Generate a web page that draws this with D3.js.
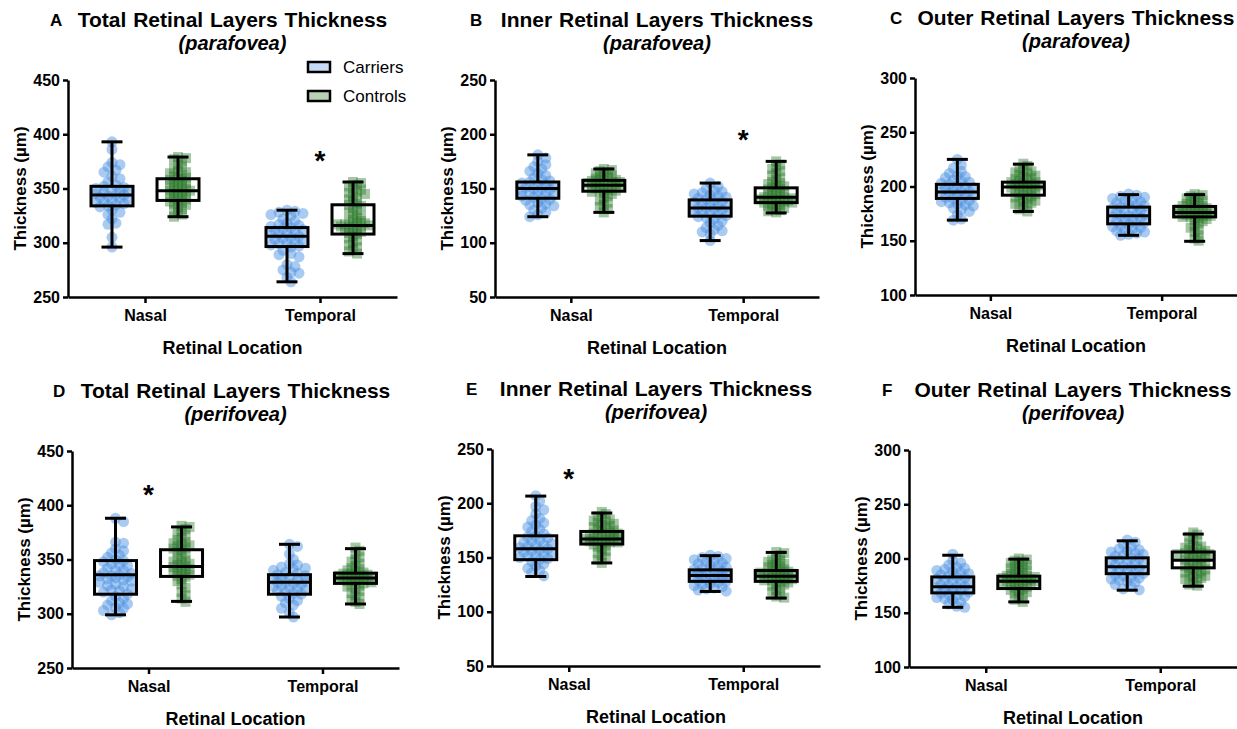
<!DOCTYPE html>
<html>
<head>
<meta charset="utf-8">
<script src="https://cdn.jsdelivr.net/npm/d3@7"></script>
<style>
  body { margin: 0; background: #fff; }
  text { font-family: "Liberation Sans", Arial, sans-serif; }
</style>
</head>
<body>
<svg id="chart" width="1237" height="729"></svg>
<script>
// categories / labels
var locations = ['Nasal', 'Temporal']
var groups = ['Carriers', 'Controls']
var panelLetters = ['A', 'B', 'C', 'D', 'E', 'F']
var panelTitles = [
  'Total Retinal Layers Thickness', 'Inner Retinal Layers Thickness', 'Outer Retinal Layers Thickness',
  'Total Retinal Layers Thickness', 'Inner Retinal Layers Thickness', 'Outer Retinal Layers Thickness'
]
var panelRegions = ['(parafovea)', '(parafovea)', '(parafovea)', '(perifovea)', '(perifovea)', '(perifovea)']
var yDomains = [[250, 450], [50, 250], [100, 300], [250, 450], [50, 250], [100, 300]]
var yTicks = [
  [250, 300, 350, 400, 450], [50, 100, 150, 200, 250], [100, 150, 200, 250, 300],
  [250, 300, 350, 400, 450], [50, 100, 150, 200, 250], [100, 150, 200, 250, 300]
]

// box stats [min, q1, median, q3, max], order: carriers nasal, controls nasal, carriers temporal, controls temporal
var boxA = [[296, 334, 344, 352, 393], [324, 339, 348, 359, 379], [264, 296.5, 306, 314, 330], [290, 308, 316, 335, 356]]
var boxB = [[124, 141, 150, 156, 181], [128, 147.5, 153, 157.5, 168], [102, 124.5, 132, 139.5, 155], [127.5, 137, 142, 150.6, 175]]
var boxC = [[169, 189, 195, 202, 225], [177, 192, 199.5, 204, 220.6], [155, 165.6, 173, 181, 192.5], [149.5, 172, 176, 181.6, 192.5]]
var boxD = [[299, 318, 336, 349, 388], [311.4, 334.4, 343.6, 359, 380], [297, 318, 329, 336, 364], [309, 328, 333, 337.4, 360]]
var boxE = [[132.5, 148, 158, 170, 206.6], [145, 162.4, 167, 174, 191], [118.7, 128, 133.4, 138.6, 151.7], [112.6, 128, 132.8, 138, 154.7]]
var boxF = [[155, 168.3, 174, 183, 203], [160, 172.3, 179, 183.7, 199.4], [170.8, 186, 192.3, 200.6, 216.3], [174.5, 191.4, 198.5, 206, 222.5]]

// individual subjects
var pointsA = [
  [393,386,374,372,370,367,365,361,359,356,353,352,351,350,349,348,347,346,345,344,344,343,342,341,340,339,338,337,336,335,334,333,330,328,326,322,318,317,305,296],
  [379,378,377,375,372,370,368,366,365,364,362,361,360,359,358,357,356,355,354,353,352,351,350,349,348,348,347,346,345,344,343,342,341,340,339,338,337,336,335,333,331,330,328,326,324],
  [330,329,328,327,326,325,322,320,318,317,316,315,314,313,312,311,310,309,308,307,306,305,304,303,302,301,300,299,298,297,296,293,290,289,287,280,278,275,273,272,268,264],
  [356,355,353,352,350,349,347,346,345,343,341,340,338,336,335,334,332,330,328,326,325,323,321,320,319,318,318,317,317,316,316,315,315,314,313,312,311,310,309,308,306,304,302,300,298,296,294,292,290]
]
var pointsB = [
  [181,178,175,172,170,168,166,164,162,160,158,157,156,155,154,153,152,151,150,150,149,148,147,146,145,144,143,142,141,140,139,137,136,135,134,132,130,128,126,124],
  [168,167,166,165,164,163,162,161,160,159,158,158,157,157,156,156,155,155,154,154,153,153,152,152,151,150,149,148,148,147,146,145,143,141,139,137,135,133,131,128],
  [155,152,150,148,147,146,145,144,143,142,141,140,139,138,137,136,135,134,133,132,132,131,130,129,128,127,126,125,124,123,122,120,118,116,114,112,111,110,108,102],
  [175,172,170,168,166,164,162,160,158,156,155,154,153,152,151,150,149,148,147,146,145,144,143,142,142,141,141,140,140,139,139,138,138,137,137,136,135,134,133,132,131,130,129,128]
]
var pointsC = [
  [225,220,217,214,212,210,209,208,206,205,204,203,202,201,200,199,198,197,196,195,195,194,193,192,191,190,189,188,187,186,185,184,183,182,180,179,177,174,170,169],
  [221,219,217,215,214,213,212,211,210,209,208,207,206,205,204,204,203,202,202,201,200,200,199,199,198,197,196,195,194,193,192,191,190,189,188,187,186,185,184,183,181,179,177],
  [193,192,191,190,189,188,187,186,185,184,183,182,181,180,179,178,177,176,175,174,173,173,172,171,170,169,168,167,166,165,164,163,162,161,160,159,158,157,156,155],
  [193,192,191,190,189,188,187,186,185,184,183,182,182,181,180,180,179,179,178,178,177,177,176,176,175,175,174,174,173,173,172,172,171,170,169,168,166,164,162,160,158,155,152,150]
]
var pointsD = [
  [388,385,366,365,360,358,356,354,352,350,349,348,346,345,344,342,340,340,338,337,336,335,335,334,333,332,331,330,329,327,326,325,323,322,321,320,318,316,314,312,310,309,308,306,305,303,301,299],
  [381,380,378,376,374,372,370,368,366,365,364,363,362,361,360,359,357,355,353,351,349,348,347,346,345,344,343,342,341,340,339,338,337,336,335,334,332,330,327,324,320,317,314,311],
  [364,362,355,350,346,345,343,342,341,340,338,337,336,335,334,333,332,331,330,329,329,328,327,326,325,324,323,322,321,320,319,318,316,314,312,310,308,305,301,297],
  [361,358,355,352,350,348,346,344,342,341,340,339,338,337,337,336,336,335,335,334,334,333,333,332,332,331,331,330,330,329,328,327,326,325,323,321,319,317,315,313,311,309]
]
var pointsE = [
  [207,202,197,194,190,186,184,182,180,178,176,174,172,170,169,168,166,165,164,163,162,161,160,159,158,157,156,155,154,153,152,151,150,149,148,146,144,142,140,138,136,133],
  [192,190,188,186,185,184,183,182,181,180,179,178,177,176,175,174,173,172,172,171,170,170,169,169,168,168,167,167,166,166,165,165,164,164,163,162,161,160,158,156,154,152,150,148,145],
  [152,151,150,149,148,147,146,145,144,143,142,141,140,139,138,137,136,135,134,134,133,133,132,132,131,130,129,128,127,126,125,124,123,122,121,120,119],
  [155,154,152,150,148,147,146,145,144,143,142,141,140,139,138,137,137,136,136,135,135,134,134,133,133,132,132,131,131,130,130,129,129,128,127,126,125,124,122,120,118,116,114,113]
]
var pointsF = [
  [204,198,196,194,192,191,190,189,188,187,186,185,184,183,182,181,180,179,178,177,176,175,174,174,173,172,171,170,169,168,167,166,165,164,163,162,160,158,156,155],
  [200,199,198,197,196,195,194,193,192,191,190,189,188,187,186,185,184,184,183,183,182,182,181,181,180,180,179,179,178,178,177,177,176,175,174,173,172,171,170,169,168,166,164,162,160],
  [217,215,213,211,209,208,207,206,205,204,203,202,201,200,199,198,197,196,195,194,193,192,191,190,189,188,187,186,185,184,183,182,181,180,179,178,176,174,172,171],
  [224,222,220,218,216,214,212,211,210,209,208,207,206,205,205,204,204,203,203,202,201,200,199,198,197,196,195,194,193,192,191,190,189,188,187,186,185,184,183,182,181,180,178,176,175]
]

// significance markers: panel index, location, value where the star sits
var starPanels = [0, 1, 3, 4]
var starLocations = ['Temporal', 'Temporal', 'Nasal', 'Nasal']
var starValues = [382, 201, 416, 229]

var boxes = [boxA, boxB, boxC, boxD, boxE, boxF]
var points = [pointsA, pointsB, pointsC, pointsD, pointsE, pointsF]

// layout of the six panels (axis origin x, plot top y, plot width)
var layout = [
  { x: 68, y: 80, w: 329, lx: 50 },
  { x: 495, y: 80, w: 324, lx: 470 },
  { x: 915, y: 78, w: 322, lx: 890 },
  { x: 72, y: 451, w: 327, lx: 53 },
  { x: 492, y: 449, w: 328, lx: 466 },
  { x: 909, y: 450, w: 328, lx: 882 }
]
var plotHeight = 217

var colors = { Carriers: '#4a90e2', Controls: '#2a7a2a' }
var legendFill = { Carriers: '#c6dcf6', Controls: '#b8d1b4' }

var svg = d3.select('#chart')

// deterministic beeswarm offsets so the dots spread sideways like GraphPad
function swarm(values, yScale, gap, maxOff) {
  var items = values.map(function(v) { return { v: v, y: yScale(v) } })
  items.sort(function(a, b) { return a.y - b.y })
  var placed = []
  var cands = [0]
  for (var k = 4; k <= maxOff; k += 4) { cands.push(k, -k) }
  items.forEach(function(p) {
    var best = 0
    var bestD = -1
    for (var i = 0; i < cands.length; i++) {
      var dmin = Infinity
      placed.forEach(function(q) {
        var d = Math.hypot(q.off - cands[i], q.y - p.y)
        if (d < dmin) dmin = d
      })
      if (dmin >= gap) { best = cands[i]; bestD = dmin; break }
      if (dmin > bestD) { bestD = dmin; best = cands[i] }
    }
    p.off = best
    placed.push(p)
  })
  return placed
}

layout.forEach(function(L, pi) {
  var g = svg.append('g').attr('transform', 'translate(' + L.x + ',' + L.y + ')')

  var yScale = d3.scaleLinear().domain(yDomains[pi]).range([plotHeight, 0])
  var xScale = d3.scalePoint().domain(locations).range([0, L.w]).padding(0.44)
  var xGroup = d3.scaleBand().domain(groups).range([-54, 54]).paddingInner(0.364)
  var bw = xGroup.bandwidth()

  // scatter
  locations.forEach(function(loc, li) {
    groups.forEach(function(grp, gi) {
      var cx = xScale(loc) + xGroup(grp) + bw / 2
      if (grp === 'Carriers') {
        var sw = swarm(points[pi][li * 2 + gi], yScale, 5.5, 16)
        g.append('g').selectAll('circle')
          .data(sw)
          .enter()
          .append('circle')
          .attr('cx', function(d) { return cx + d.off })
          .attr('cy', function(d) { return d.y })
          .attr('r', 5.5)
          .attr('fill', colors.Carriers)
          .attr('fill-opacity', 0.47)
      } else {
        var sw2 = swarm(points[pi][li * 2 + gi], yScale, 4.5, 16)
        g.append('g').selectAll('rect')
          .data(sw2)
          .enter()
          .append('rect')
          .attr('x', function(d) { return cx + d.off - 5 })
          .attr('y', function(d) { return d.y - 5 })
          .attr('width', 10)
          .attr('height', 10)
          .attr('fill', colors.Controls)
          .attr('fill-opacity', 0.42)
      }
    })
  })

  // boxes and whiskers
  locations.forEach(function(loc, li) {
    groups.forEach(function(grp, gi) {
      var s = boxes[pi][li * 2 + gi]
      var cx = xScale(loc) + xGroup(grp) + bw / 2
      var bg = g.append('g').attr('stroke', '#000').attr('stroke-width', 3).attr('fill', 'none')
      bg.append('line').attr('x1', cx).attr('x2', cx).attr('y1', yScale(s[4])).attr('y2', yScale(s[3]))
      bg.append('line').attr('x1', cx).attr('x2', cx).attr('y1', yScale(s[1])).attr('y2', yScale(s[0]))
      bg.append('line').attr('x1', cx - bw / 4).attr('x2', cx + bw / 4).attr('y1', yScale(s[4])).attr('y2', yScale(s[4]))
      bg.append('line').attr('x1', cx - bw / 4).attr('x2', cx + bw / 4).attr('y1', yScale(s[0])).attr('y2', yScale(s[0]))
      bg.append('rect')
        .attr('x', cx - bw / 2)
        .attr('y', yScale(s[3]))
        .attr('width', bw)
        .attr('height', yScale(s[1]) - yScale(s[3]))
      bg.append('line').attr('x1', cx - bw / 2).attr('x2', cx + bw / 2).attr('y1', yScale(s[2])).attr('y2', yScale(s[2]))
    })
  })

  // axes
  var yAxis = d3.axisLeft(yScale).tickValues(yTicks[pi]).tickSize(5).tickSizeOuter(0).tickPadding(3)
  var xAxis = d3.axisBottom(xScale).tickSize(6).tickSizeOuter(0).tickPadding(7)

  var ya = g.append('g').attr('class', 'axis y-axis').call(yAxis)
  var xa = g.append('g').attr('class', 'axis x-axis')
    .attr('transform', 'translate(0,' + plotHeight + ')')
    .call(xAxis)
  ;[ya, xa].forEach(function(a) {
    a.select('.domain').attr('stroke', '#000').attr('stroke-width', 2.5)
    a.selectAll('.tick line').attr('stroke', '#000').attr('stroke-width', 2.5)
    a.selectAll('.tick text')
      .attr('fill', '#000')
      .attr('font-size', 16)
      .attr('font-weight', 'bold')
      .style('font-family', '"Liberation Sans", Arial, sans-serif')
  })

  // axis titles
  g.append('text')
    .text('Thickness (µm)')
    .attr('transform', 'translate(-42,' + plotHeight / 2 + ') rotate(-90)')
    .attr('text-anchor', 'middle')
    .attr('font-size', 17)
    .attr('font-weight', 'bold')

  g.append('text')
    .text('Retinal Location')
    .attr('x', L.w / 2)
    .attr('y', plotHeight + 57)
    .attr('text-anchor', 'middle')
    .attr('font-size', 18)
    .attr('font-weight', 'bold')

  // panel title
  g.append('text')
    .text(panelTitles[pi])
    .attr('x', L.w / 2)
    .attr('y', -53)
    .attr('text-anchor', 'middle')
    .attr('font-size', 21)
    .attr('font-weight', 'bold')
    .attr('word-spacing', 1)

  g.append('text')
    .text(panelRegions[pi])
    .attr('x', L.w / 2)
    .attr('y', -30)
    .attr('text-anchor', 'middle')
    .attr('font-size', 20)
    .attr('font-weight', 'bold')
    .attr('font-style', 'italic')

  svg.append('text')
    .text(panelLetters[pi])
    .attr('x', L.lx)
    .attr('y', L.y - 54)
    .attr('font-size', 17)
    .attr('font-weight', 'bold')

  // significance stars
  starPanels.forEach(function(sp, si) {
    if (sp !== pi) return
    g.append('text')
      .text('*')
      .attr('x', xScale(starLocations[si]))
      .attr('y', yScale(starValues[si]))
      .attr('dy', '0.57em')
      .attr('text-anchor', 'middle')
      .attr('font-size', 28)
      .attr('font-weight', 'bold')
  })

  // legend only in first panel
  if (pi === 0) {
    var leg = g.append('g').attr('transform', 'translate(240,-13)')
    groups.forEach(function(grp, gi) {
      leg.append('rect')
        .attr('x', 0)
        .attr('y', gi * 29 - 5)
        .attr('width', 22)
        .attr('height', 10)
        .attr('fill', legendFill[grp])
        .attr('stroke', '#000')
        .attr('stroke-width', 2.5)
      leg.append('text')
        .text(grp)
        .attr('x', 35)
        .attr('y', gi * 29)
        .attr('dy', '0.35em')
        .attr('font-size', 17)
    })
  }
})
</script>
</body>
</html>
